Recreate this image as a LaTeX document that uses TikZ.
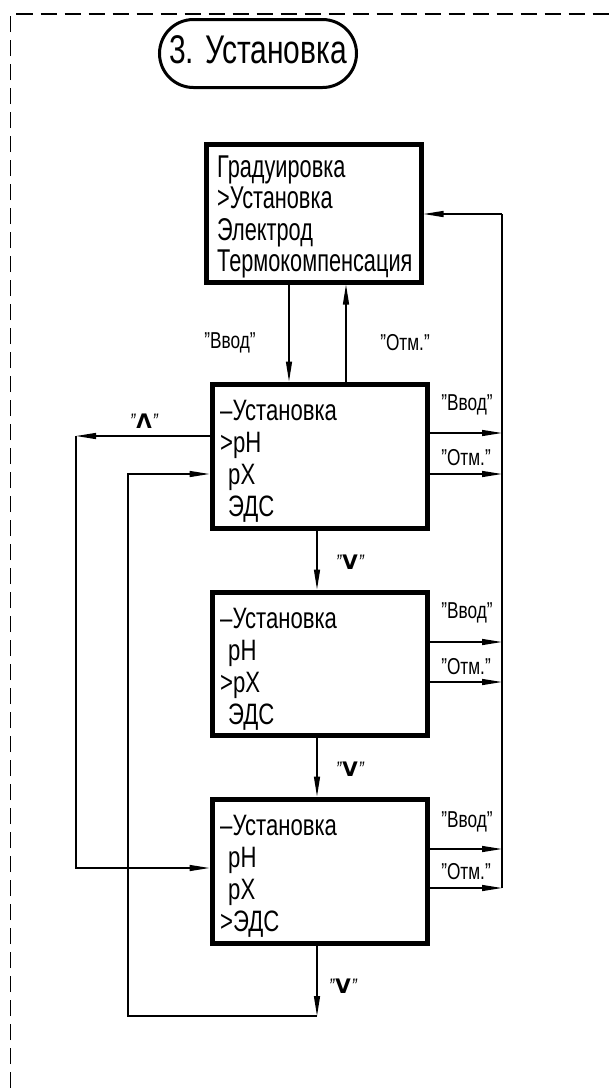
\documentclass[tikz,border=0pt]{standalone}
\usepackage{fontspec}
\setmainfont{Liberation Sans}[FakeStretch=0.75]
\newfontfamily\narrowf{Liberation Sans}[FakeStretch=0.69]
\newfontfamily\symf{DejaVu Sans}
\usetikzlibrary{arrows.meta}
\begin{document}
\begin{tikzpicture}[x=1pt,y=-1pt,
  ln/.style={line width=1.3pt},
  arr/.style={ln, -{Triangle[length=20pt,width=6pt]}},
  box/.style={draw, line width=5pt, minimum width=215pt, anchor=north west, inner sep=0pt},
  btxt/.style={anchor=north west, inner sep=0pt, align=left, font=\fontsize{29.5}{32}\selectfont},
  lbl/.style={inner sep=0pt, font=\fontsize{23}{25}\selectfont},
  keylbl/.style={inner sep=0pt, font=\fontsize{20}{22}\selectfont}]
\newcommand\qm{{\fontsize{21}{21}\selectfont\itshape"}}
\useasboundingbox (0,0) rectangle (613,1088);
% frame
\draw[line width=1.3pt, dash pattern=on 16pt off 8pt] (10.5,1088) -- (10.5,14) -- (613,14);
% title
\node[draw, line width=3pt, rounded corners=34pt, minimum width=197pt, minimum height=68pt,
      inner sep=0pt, text height=29pt, text depth=10pt, font=\fontsize{40}{42}\selectfont]
      (title) at (258,53.5) {3. Установка};
% boxes
\node[box, minimum height=138pt] (b1) at (203.5,141.5) {};
\node[box, minimum height=144pt] (b2) at (209.5,381.5) {};
\node[box, minimum height=143pt] (b3) at (209.5,589.5) {};
\node[box, minimum height=144pt] (b4) at (209.5,796.5) {};
% box texts
\node[btxt, font=\narrowf\fontsize{31.5}{31.5}\selectfont] (t1) at (217,149)
  {\rule{0pt}{28pt}Градуировка\\>Установка\\Электрод\\Термокомпенсация};
\node[btxt] (t2) at (220,392)
  {\rule{0pt}{28pt}–Установка\\>pH\\\hspace*{8pt}pX\\\hspace*{8pt}ЭДС};
\node[btxt] (t3) at (220,600)
  {\rule{0pt}{28pt}–Установка\\\hspace*{8pt}pH\\>pX\\\hspace*{8pt}ЭДС};
\node[btxt] (t4) at (220,807)
  {\rule{0pt}{28pt}–Установка\\\hspace*{8pt}pH\\\hspace*{8pt}pX\\>ЭДС};
% coordinates
\coordinate (bus) at (502,214);
\coordinate (busb) at (502,888);
\coordinate (o2a) at (502,433);
\coordinate (o2b) at (502,474);
\coordinate (o3a) at (502,642);
\coordinate (o3b) at (502,682);
\coordinate (o4a) at (502,849);
\coordinate (o4b) at (502,888);
\coordinate (cin) at (289,0);
\coordinate (cout) at (346,0);
\coordinate (cmid) at (317,0);
\coordinate (bot) at (317,1016);
\coordinate (retc) at (128,1016);
\coordinate (ret) at (128,474);
\coordinate (upc) at (76,436);
\coordinate (upd) at (76,868);
% connectors
\draw[ln] (busb) -- (bus);
\draw[arr] (bus) -- (b1.east |- bus);
\draw[arr] (b2.east |- o2a) -- (o2a);
\draw[arr] (b2.east |- o2b) -- (o2b);
\draw[arr] (b3.east |- o3a) -- (o3a);
\draw[arr] (b3.east |- o3b) -- (o3b);
\draw[arr] (b4.east |- o4a) -- (o4a);
\draw[arr] (b4.east |- o4b) -- (o4b);
\draw[arr] (b1.south -| cin) -- (b2.north -| cin);
\draw[arr] (b2.north -| cout) -- (b1.south -| cout);
\draw[arr] (b2.south -| cmid) -- (b3.north -| cmid);
\draw[arr] (b3.south -| cmid) -- (b4.north -| cmid);
\draw[arr] (b4.south -| cmid) -- (bot);
\draw[arr] (bot) -- (retc) -- (ret) -- (b2.west |- ret);
\draw[arr] (b2.west |- upc) -- (upc);
\draw[arr] (upc) -- (upd) -- (b4.west |- upd);
% labels
\node[lbl] (l1) at (230,343) {"Ввод"};
\node[lbl] (l2) at (405,343) {"Отм."};
\node[lbl] (r2a) at (467,405) {"Ввод"};
\node[lbl] (r2b) at (466,458) {"Отм."};
\node[lbl] (r3a) at (467,613) {"Ввод"};
\node[lbl] (r3b) at (466,667) {"Отм."};
\node[lbl] (r4a) at (467,822) {"Ввод"};
\node[lbl] (r4b) at (466,872) {"Отм."};
\node[keylbl] (k1) at (144,421) {\qm\kern1pt{\symf\bfseries Λ}\kern1pt\qm};
\node[keylbl] (k2) at (350,562) {\qm\kern1pt{\symf\bfseries V}\kern1pt\qm};
\node[keylbl] (k3) at (350,769) {\qm\kern1pt{\symf\bfseries V}\kern1pt\qm};
\node[keylbl] (k4) at (343,986) {\qm\kern1pt{\symf\bfseries V}\kern1pt\qm};
\end{tikzpicture}
\end{document}
